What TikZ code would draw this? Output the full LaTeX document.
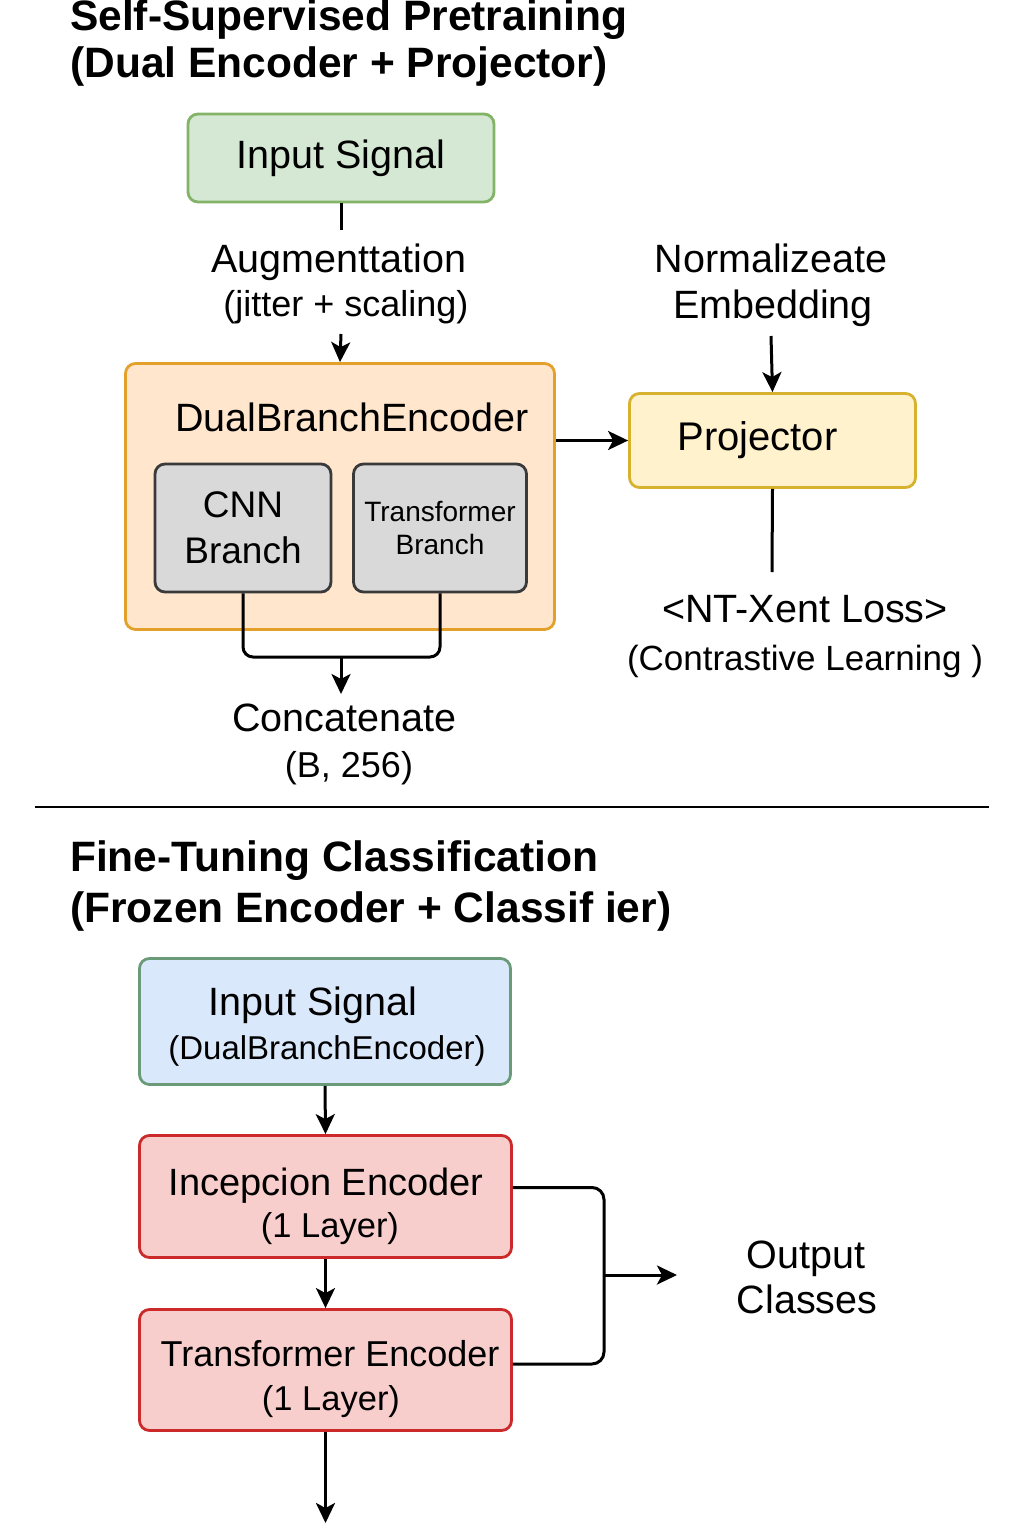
\documentclass[tikz,border=0pt]{standalone}
\usepackage{fontspec}
\setmainfont{Liberation Sans}
\usetikzlibrary{arrows.meta}
\definecolor{gfill}{HTML}{D5E8D4}\definecolor{gdraw}{HTML}{82B366}
\definecolor{ofill}{HTML}{FFE6CC}\definecolor{odraw}{HTML}{E3A02A}
\definecolor{kfill}{HTML}{D9D9D9}\definecolor{kdraw}{HTML}{3A3A3A}
\definecolor{yfill}{HTML}{FFF2CC}\definecolor{ydraw}{HTML}{D6B22E}
\definecolor{bfill}{HTML}{DAE8FC}\definecolor{bdraw}{HTML}{6A9A78}
\definecolor{rfill}{HTML}{F8CECC}\definecolor{rdraw}{HTML}{CC2A2A}
\begin{document}
\begin{tikzpicture}[x=1pt,y=-1pt,
  box/.style={draw, rounded corners=10pt, line width=2.8pt, align=center, inner sep=0pt},
  arr/.style={line width=3pt, -{Stealth[length=20pt,width=19pt,inset=5pt]}},
  ln/.style={line width=3pt},
  txt/.style={anchor=base, inner sep=0pt},
  ttl/.style={anchor=base west, inner sep=0pt, font=\bfseries\fontsize{42.5}{50}\selectfont},
  fA/.style={font=\fontsize{39.5}{46}\selectfont},
  fI/.style={font=\fontsize{38}{45}\selectfont},
  fL/.style={font=\fontsize{34.5}{42}\selectfont},
  fB/.style={font=\fontsize{36}{44}\selectfont}]
\useasboundingbox (0,0) rectangle (1024,1536);
\fill[white] (0,0) rectangle (1024,1536);

% ---------- Titles ----------
\node[ttl] (t1a) at (70,31) {Self-Supervised Pretraining};
\node[ttl] (t1b) at (70,78) {(Dual Encoder + Projector)};
\node[ttl] (t2a) at (70,871) {Fine-Tuning Classification};
\node[ttl] (t2b) at (70,922) {(Frozen Encoder + Classif ier)};

% ---------- Pretraining ----------
\node[box, fill=gfill, draw=gdraw, minimum width=306pt, minimum height=88pt, fA] (in1) at (341,158) {Input Signal};
\coordinate (augtop) at (341,230);
\node[txt, fA] (aug1) at (339,272) {Augmenttation};
\node[txt, fB] (aug2) at (346,316) {(jitter + scaling)};
\coordinate (augbot) at (341,334);

\node[box, fill=ofill, draw=odraw, minimum width=429pt, minimum height=266pt] (dbe) at (340,496.5) {};
\node[txt, fA] (dbel) at (352,431) {DualBranchEncoder};
\node[box, fill=kfill, draw=kdraw, minimum width=176pt, minimum height=128pt, font=\fontsize{37}{46}\selectfont] (cnn) at (243,528) {CNN\\Branch};
\node[box, fill=kfill, draw=kdraw, minimum width=173pt, minimum height=128pt, font=\fontsize{28}{33}\selectfont] (trans) at (440,528) {Transformer\\Branch};
\coordinate (join) at (341,657);
\coordinate (cattop) at (341,694);
\node[txt, fA] (cat1) at (344,731) {Concatenate};
\node[txt, fB] (cat2) at (349,777) {(B, 256)};

\node[txt, fA] (nrm1) at (771,272) {Normalizeate};
\node[txt, fA] (nrm2) at (773,318) {Embedding};
\coordinate (nrmbot) at (771,336);
\node[box, fill=yfill, draw=ydraw, minimum width=286pt, minimum height=94pt, font=\fontsize{40}{46}\selectfont] (proj) at (772.5,440.5) {\hspace*{-30pt}Projector};
\coordinate (projend) at (772,572);
\node[txt, fA] (nt1) at (805,622) {<NT-Xent Loss>};
\node[txt, font=\fontsize{35}{42}\selectfont] (nt2) at (805,670) {(Contrastive Learning )};

\draw[ln] (in1.south) -- (augtop);
\draw[arr] (augbot) -- (dbe.north);
\draw[ln, rounded corners=10pt] (cnn.south) |- (join) -| (trans.south);
\draw[arr] (join) -- (cattop);
\draw[arr] (proj.west -| dbe.east) -- (proj.west);
\draw[arr] (nrmbot) -- (proj.north);
\draw[ln] (proj.south) -- (projend);

% ---------- Separator ----------
\draw[line width=2pt] (35,807) -- (989,807);

% ---------- Fine-tuning ----------
\node[box, fill=bfill, draw=bdraw, minimum width=371pt, minimum height=126pt] (in2) at (325,1021.5) {};
\node[txt, fA] (in2a) at (313,1015) {Input Signal};
\node[txt, font=\fontsize{33}{40}\selectfont] (in2b) at (327,1059) {(DualBranchEncoder)};
\node[box, fill=rfill, draw=rdraw, minimum width=372pt, minimum height=122pt] (inc) at (325.5,1196.5) {};
\node[txt, fI] (inca) at (326,1195) {Incepcion Encoder};
\node[txt, fL] (incb) at (330,1237) {(1 Layer)};
\node[box, fill=rfill, draw=rdraw, minimum width=372pt, minimum height=121pt] (tenc) at (325.5,1370) {};
\node[txt, fB] (tenca) at (330,1366) {Transformer Encoder};
\node[txt, fL] (tencb) at (331,1410) {(1 Layer)};
\coordinate (brk) at (604,1275);
\coordinate (outtip) at (677,1275);
\coordinate (endtip) at (325.5,1523);
\node[txt, fA] (out1) at (806,1268) {Output};
\node[txt, fA] (out2) at (807,1313) {Classes};

\draw[arr] (in2.south) -- (inc.north);
\draw[arr] (inc.south) -- (tenc.north);
\draw[arr] (tenc.south) -- (endtip);
\draw[ln, rounded corners=12pt] ([yshift=9pt]inc.east) -| (brk) |- ([yshift=6pt]tenc.east);
\draw[arr] (brk) -- (outtip);
\end{tikzpicture}
\end{document}
